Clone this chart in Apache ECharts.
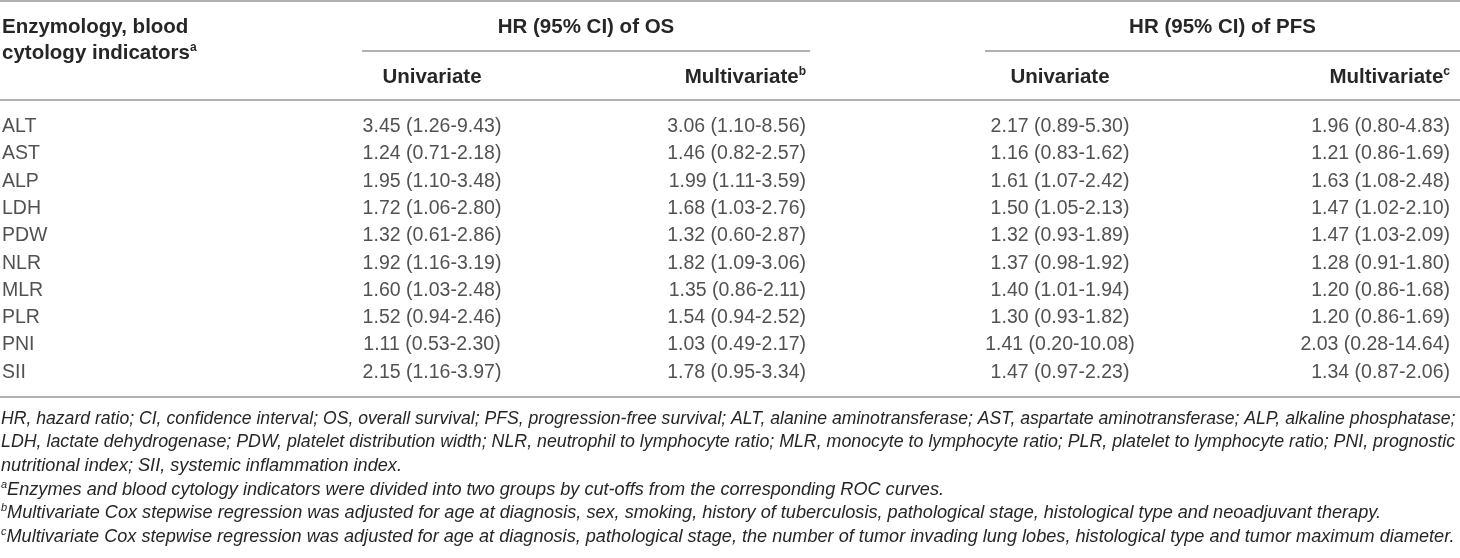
<!DOCTYPE html>
<html>
<head>
<meta charset="utf-8">
<script src="https://cdn.jsdelivr.net/npm/echarts@6/dist/echarts.min.js"></script>
<style>
  html, body { margin: 0; padding: 0; background: #fff; }
  #chart { width: 1460px; height: 558px; }
</style>
</head>
<body>
<div id="chart"></div>
<script>
// table rows
const indicators = ['ALT', 'AST', 'ALP', 'LDH', 'PDW', 'NLR', 'MLR', 'PLR', 'PNI', 'SII']

// HR (95% CI) of OS
const osUnivariate = ['3.45 (1.26-9.43)', '1.24 (0.71-2.18)', '1.95 (1.10-3.48)', '1.72 (1.06-2.80)', '1.32 (0.61-2.86)',
  '1.92 (1.16-3.19)', '1.60 (1.03-2.48)', '1.52 (0.94-2.46)', '1.11 (0.53-2.30)', '2.15 (1.16-3.97)']
const osMultivariate = ['3.06 (1.10-8.56)', '1.46 (0.82-2.57)', '1.99 (1.11-3.59)', '1.68 (1.03-2.76)', '1.32 (0.60-2.87)',
  '1.82 (1.09-3.06)', '1.35 (0.86-2.11)', '1.54 (0.94-2.52)', '1.03 (0.49-2.17)', '1.78 (0.95-3.34)']

// HR (95% CI) of PFS
const pfsUnivariate = ['2.17 (0.89-5.30)', '1.16 (0.83-1.62)', '1.61 (1.07-2.42)', '1.50 (1.05-2.13)', '1.32 (0.93-1.89)',
  '1.37 (0.98-1.92)', '1.40 (1.01-1.94)', '1.30 (0.93-1.82)', '1.41 (0.20-10.08)', '1.47 (0.97-2.23)']
const pfsMultivariate = ['1.96 (0.80-4.83)', '1.21 (0.86-1.69)', '1.63 (1.08-2.48)', '1.47 (1.02-2.10)', '1.47 (1.03-2.09)',
  '1.28 (0.91-1.80)', '1.20 (0.86-1.68)', '1.20 (0.86-1.69)', '2.03 (0.28-14.64)', '1.34 (0.87-2.06)']

// footnotes
const footnotes = [
  'HR, hazard ratio; CI, confidence interval; OS, overall survival; PFS, progression-free survival; ALT, alanine aminotransferase; AST, aspartate aminotransferase; ALP, alkaline phosphatase;',
  'LDH, lactate dehydrogenase; PDW, platelet distribution width; NLR, neutrophil to lymphocyte ratio; MLR, monocyte to lymphocyte ratio; PLR, platelet to lymphocyte ratio; PNI, prognostic',
  'nutritional index; SII, systemic inflammation index.',
]
const noteMarks = ['a', 'b', 'c']
const notes = [
  'Enzymes and blood cytology indicators were divided into two groups by cut-offs from the corresponding ROC curves.',
  'Multivariate Cox stepwise regression was adjusted for age at diagnosis, sex, smoking, history of tuberculosis, pathological stage, histological type and neoadjuvant therapy.',
  'Multivariate Cox stepwise regression was adjusted for age at diagnosis, pathological stage, the number of tumor invading lung lobes, histological type and tumor maximum diameter.',
]

// layout
const W = 1460
const FONT = '"Liberation Sans", Arial, Helvetica, sans-serif'
const TEXT = '#262626'
const RULE = '#969696'
const BODY_SIZE = 19.5
const HEAD_SIZE = 20.5
const colX = { name: 2, osUni: 432, osMulti: 806, pfsUni: 1060, pfsMulti: 1450 }
const osSpan = [362, 810]
const pfsSpan = [985, 1460]

const chart = echarts.init(document.getElementById('chart'), null, { renderer: 'canvas' })

// footnote size: the two justified lines fill the width, the rest run a bit larger
const ctx = document.createElement('canvas').getContext('2d')
ctx.font = 'italic 16px ' + FONT
const fitSize = (t) => 16 * 1455 / ctx.measureText(t).width
const noteSize = fitSize(footnotes[0]) * 1.03

const cellSeries = (values, x, pos) => ({
  type: 'scatter',
  symbolSize: 0,
  silent: true,
  data: values.map((v, i) => [x, indicators[i], v]),
  label: {
    show: true,
    position: pos,
    distance: 0,
    formatter: (p) => p.data[2],
    fontFamily: FONT,
    fontSize: BODY_SIZE,
    color: TEXT,
  },
})

const rule = (x1, x2, y) => ({
  type: 'line',
  shape: { x1: x1, y1: y, x2: x2, y2: y },
  style: { stroke: RULE, lineWidth: 1.5 },
  silent: true,
})

const headText = (text, x, y, align) => ({
  type: 'text',
  x: x,
  y: y,
  silent: true,
  style: {
    text: text,
    align: align,
    verticalAlign: 'middle',
    fontFamily: FONT,
    fontSize: HEAD_SIZE,
    fontWeight: 'bold',
    fill: TEXT,
    rich: {
      n: { fontFamily: FONT, fontSize: HEAD_SIZE, fontWeight: 'bold', fill: TEXT },
      s: { fontFamily: FONT, fontSize: 12, fontWeight: 'bold', fill: TEXT, padding: [0, 0, 10, 0] },
    },
  },
})

const noteText = (text, y, size) => ({
  type: 'text',
  x: 1,
  y: y,
  silent: true,
  style: {
    text: text,
    verticalAlign: 'middle',
    fontFamily: FONT,
    fontSize: size,
    fontStyle: 'italic',
    fill: TEXT,
    rich: {
      i: { fontFamily: FONT, fontSize: size, fontStyle: 'italic', fill: TEXT },
      s: { fontFamily: FONT, fontSize: 11, fontStyle: 'italic', fill: TEXT, padding: [0, 0, 10, 0] },
    },
  },
})

const graphics = [
  rule(0, W, 1),
  rule(osSpan[0], osSpan[1], 51),
  rule(pfsSpan[0], pfsSpan[1], 51),
  rule(0, W, 100),
  rule(0, W, 397),
  headText('Enzymology, blood', 2, 27, 'left'),
  headText('{n|cytology indicators}{s|a}', 2, 53, 'left'),
  headText('HR (95% CI) of OS', (osSpan[0] + osSpan[1]) / 2, 27, 'center'),
  headText('HR (95% CI) of PFS', (pfsSpan[0] + pfsSpan[1]) / 2, 27, 'center'),
  headText('Univariate', colX.osUni, 77, 'center'),
  headText('{n|Multivariate}{s|b}', colX.osMulti, 77, 'right'),
  headText('Univariate', colX.pfsUni, 77, 'center'),
  headText('{n|Multivariate}{s|c}', colX.pfsMulti, 77, 'right'),
]
footnotes.forEach((t, i) => graphics.push(noteText(t, 419 + i * 23.5, i < 2 ? fitSize(t) : noteSize)))
notes.forEach((t, i) => graphics.push(noteText('{s|' + noteMarks[i] + '}{i|' + t + '}', 419 + (i + 3) * 23.5, noteSize)))

const option = {
  animation: false,
  grid: { left: 0, right: 0, top: 113, height: 273 },
  xAxis: { type: 'value', min: 0, max: W, show: false },
  yAxis: { type: 'category', data: indicators, inverse: true, show: false },
  series: [
    cellSeries(indicators, colX.name, 'right'),
    cellSeries(osUnivariate, colX.osUni, 'inside'),
    cellSeries(osMultivariate, colX.osMulti, 'left'),
    cellSeries(pfsUnivariate, colX.pfsUni, 'inside'),
    cellSeries(pfsMultivariate, colX.pfsMulti, 'left'),
  ],
  graphic: graphics,
}

chart.setOption(option)
window.addEventListener('resize', () => {
  chart.resize()
})
</script>
</body>
</html>
